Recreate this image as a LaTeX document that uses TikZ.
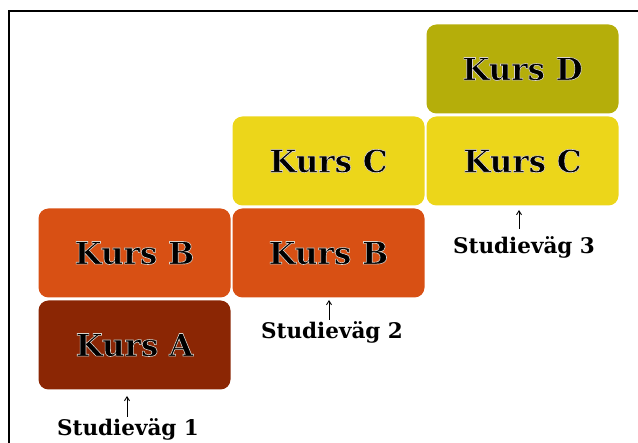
\documentclass[tikz,border=0pt]{standalone}
\usepackage{fontspec}
\setmainfont{DejaVu Serif}
\usetikzlibrary{arrows.meta}
\definecolor{cA}{RGB}{139,38,4}
\definecolor{cB}{RGB}{216,80,20}
\definecolor{cC}{RGB}{236,214,26}
\definecolor{cD}{RGB}{181,174,10}
\newcommand\halotext[1]{\special{pdf:literal direct 2 Tr 0.6 w 0.86 0.83 0.80 RG}#1\special{pdf:literal direct 0 Tr}}
\tikzset{
  kurs/.style={rounded corners=10pt, minimum width=192pt, minimum height=89pt, inner sep=0pt,
    font=\bfseries\fontsize{31}{34}\selectfont, text=black},
  vag/.style={font=\bfseries\fontsize{21.5}{24}\selectfont, inner sep=0pt},
  uparrow/.style={-{Straight Barb[length=4pt,width=5pt]}, line width=0.9pt},
  frame/.style={line width=1.4pt}
}
\begin{document}
\begin{tikzpicture}[x=1pt,y=-1pt]
\useasboundingbox (0,0) rectangle (638,443);
\draw[frame] (9,443) -- (9,11) -- (638,11);
\node[kurs, fill=cB] (b1) at (134.5,253) {\halotext{Kurs B}};
\node[kurs, fill=cA] (a1) at (134.5,345) {\halotext{Kurs A}};
\node[kurs, fill=cC] (c2) at (328.5,161) {\halotext{Kurs C}};
\node[kurs, fill=cB] (b2) at (328.5,253) {\halotext{Kurs B}};
\node[kurs, fill=cD] (d3) at (522.5,69) {\halotext{Kurs D}};
\node[kurs, fill=cC] (c3) at (522.5,161) {\halotext{Kurs C}};
\node[vag] (s1) at (128,429) {Studieväg 1};
\node[vag] (s2) at (332,332) {Studieväg 2};
\node[vag] (s3) at (524,247) {Studieväg 3};
\coordinate (t1) at (127,396);
\coordinate (t2) at (329,300);
\coordinate (t3) at (519,210);
\draw[uparrow] (127,417) -- (t1);
\draw[uparrow] (329,320) -- (t2);
\draw[uparrow] (519,229) -- (t3);
\end{tikzpicture}
\end{document}
